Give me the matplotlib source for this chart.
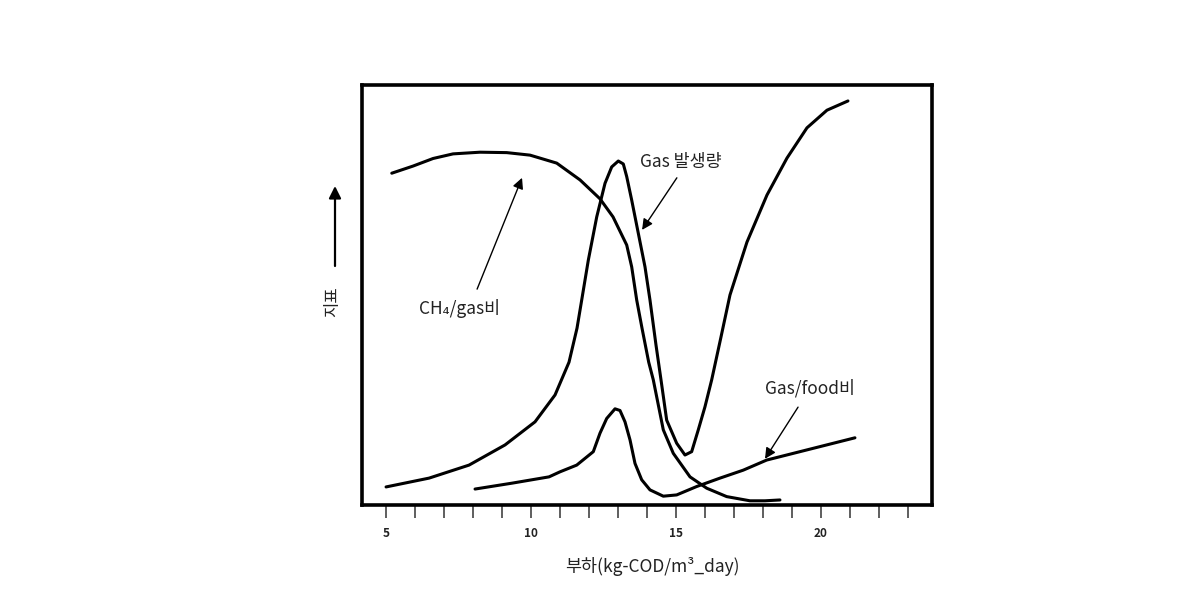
import matplotlib
matplotlib.use("Agg")
import matplotlib.pyplot as plt

plt.rcParams['font.family'] = ['Noto Sans CJK KR', 'DejaVu Sans']

# ---- data ----
ch4_x = [5.197, 5.931, 6.621, 7.310, 8.241, 9.162, 9.966, 10.886, 11.690, 12.379, 12.828,
         13.300, 13.472, 13.645, 13.828, 14.059, 14.217, 14.562, 14.907, 15.483, 16.059,
         16.748, 17.552, 18.069, 18.586]
ch4_y = [0.790, 0.807, 0.825, 0.836, 0.840, 0.839, 0.833, 0.814, 0.774, 0.729, 0.686,
         0.619, 0.567, 0.488, 0.421, 0.340, 0.298, 0.179, 0.123, 0.067, 0.040,
         0.020, 0.010, 0.010, 0.012]

gas_x = [5.000, 6.483, 7.862, 9.103, 10.138, 10.828, 11.310, 11.586, 11.748, 11.976, 12.266,
         12.552, 12.783, 13.010, 13.183, 13.300, 13.472, 13.700, 13.931, 14.103, 14.310,
         14.483, 14.679, 15.024, 15.310, 15.541, 15.769, 16.000, 16.231, 16.552, 16.862,
         17.448, 18.138, 18.828, 19.517, 20.207, 20.931]
gas_y = [0.043, 0.064, 0.095, 0.143, 0.198, 0.262, 0.340, 0.421, 0.488, 0.583, 0.686,
         0.766, 0.805, 0.819, 0.812, 0.782, 0.726, 0.647, 0.567, 0.488, 0.381,
         0.298, 0.202, 0.147, 0.119, 0.127, 0.179, 0.234, 0.298, 0.400, 0.500,
         0.626, 0.738, 0.826, 0.898, 0.940, 0.962]

food_x = [8.069, 9.345, 10.621, 11.000, 11.576, 12.148, 12.379, 12.610, 12.897, 13.069,
          13.241, 13.414, 13.586, 13.817, 14.103, 14.562, 15.024, 15.714, 16.517, 17.321,
          18.128, 19.276, 21.172]
food_y = [0.038, 0.052, 0.067, 0.079, 0.095, 0.127, 0.171, 0.206, 0.229, 0.225,
          0.198, 0.155, 0.099, 0.060, 0.036, 0.021, 0.024, 0.044, 0.064, 0.083,
          0.107, 0.127, 0.160]

major_ticks = [5, 10, 15, 20]
minor_ticks = list(range(5, 24))

labels = ["CH₄/gas비", "Gas 발생량", "Gas/food비"]
x_label = "부하(kg-COD/m³_day)"
y_label = "지표"

# ---- figure ----
fig = plt.figure(figsize=(11.9, 6.01), dpi=100)
ax = fig.add_axes([362/1190, 1-505/601, (932-362)/1190, (505-85)/601])
ax.set_xlim(4.17, 23.83)
ax.set_ylim(0, 1)

lw = 2.2
for xs, ys in [(ch4_x, ch4_y), (gas_x, gas_y), (food_x, food_y)]:
    ax.plot(xs, ys, color='black', lw=lw, solid_capstyle='round', solid_joinstyle='round')

for s in ax.spines.values():
    s.set_linewidth(2.6)
    s.set_color('black')

ax.set_yticks([])
ax.set_xticks(major_ticks)
ax.set_xticks(minor_ticks, minor=True)
ax.set_xticklabels([str(t) for t in major_ticks], fontsize=8.5, fontweight='bold', color='#222222')
ax.tick_params(axis='x', which='both', direction='out', length=9, width=1.1, pad=7, color='#333333')
ax.tick_params(axis='x', which='minor', labelbottom=False)

ap = dict(arrowstyle='-|>', color='black', lw=1.0, mutation_scale=16, shrinkA=0, shrinkB=0)
ax.annotate('', xy=(9.69, 0.779), xytext=(8.14, 0.514), arrowprops=ap)
ax.annotate('', xy=(13.83, 0.655), xytext=(15.03, 0.779), arrowprops=ap)
ax.annotate('', xy=(18.07, 0.110), xytext=(19.21, 0.233), arrowprops=ap)

fs = 12.5
ax.text(6.14, 0.469, labels[0], fontsize=fs, ha='left', va='center', color='#222222')
ax.text(13.76, 0.817, labels[1], fontsize=fs, ha='left', va='center', color='#222222')
ax.text(18.07, 0.279, labels[2], fontsize=fs, ha='left', va='center', color='#222222')

fig.text(652/1190, 1-567/601, x_label, fontsize=12.5, ha='center', va='center', color='#222222')
fig.text(333/1190, 1-302/601, y_label, fontsize=12, rotation=90, ha='center', va='center', color='#222222')
ax.annotate('', xy=(335, 601-186), xytext=(335, 601-266), xycoords='figure pixels',
            textcoords='figure pixels',
            arrowprops=dict(arrowstyle='-|>', color='black', lw=1.6, mutation_scale=18,
                            shrinkA=0, shrinkB=0))

fig.savefig('out.png', dpi=100)
